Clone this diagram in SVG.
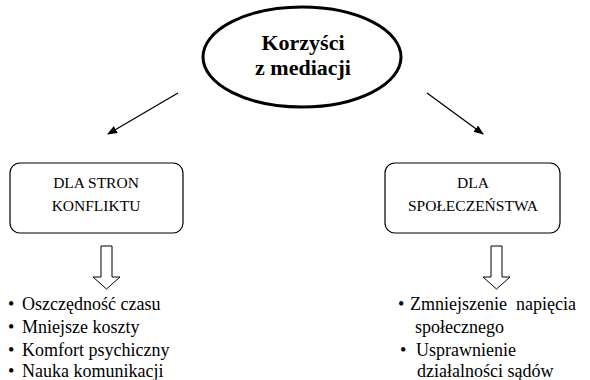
<svg xmlns="http://www.w3.org/2000/svg" width="590" height="380" viewBox="0 0 590 380">
<style>
text{font-family:"Liberation Serif","Tinos","Times New Roman","DejaVu Serif",serif;fill:#000}
.t{font-size:22px;font-weight:bold;text-anchor:middle}
.b{font-size:15.5px;text-anchor:middle}
.l{font-size:18px}
.box{fill:#fff;stroke:#000;stroke-width:1.2}
.ln{stroke:#000;stroke-width:1.3;fill:none}
.blk{fill:#fff;stroke:#000;stroke-width:1}
</style>
<defs>
<marker id="ah" markerWidth="10" markerHeight="8" refX="9" refY="4" orient="auto" markerUnits="userSpaceOnUse">
<path d="M0,0 L10,4 L0,8 Z" fill="#000"/>
</marker>
</defs>
<g id="root">
<ellipse cx="302" cy="57" rx="99" ry="50" fill="#fff" stroke="#000" stroke-width="3"/>
<text class="t" x="303" y="50">Korzyści</text>
<text class="t" x="303" y="75">z mediacji</text>
</g>
<g id="left">
<rect class="box" x="10" y="163" width="173" height="70" rx="10"/>
<text class="b" x="96" y="188">DLA STRON</text>
<text class="b" x="96" y="211">KONFLIKTU</text>
</g>
<g id="right">
<rect class="box" x="385" y="163" width="175" height="70" rx="10"/>
<text class="b" x="473" y="188">DLA</text>
<text class="b" x="473" y="211">SPOŁECZEŃSTWA</text>
</g>
<g id="connectors">
<line class="ln" x1="178" y1="93" x2="108" y2="134" marker-end="url(#ah)"/>
<line class="ln" x1="427" y1="93" x2="483" y2="134" marker-end="url(#ah)"/>
<path class="blk" d="M101,246 H112 V277 H120 L106.5,289 L93,277 H101 Z"/>
<path class="blk" d="M491,246 H502 V277 H510 L496.5,289 L483,277 H491 Z"/>
</g>
<g id="left-list">
<text class="l" y="310"><tspan x="8">•</tspan><tspan x="22">Oszczędność czasu</tspan></text>
<text class="l" y="333"><tspan x="8">•</tspan><tspan x="22">Mniejsze koszty</tspan></text>
<text class="l" y="356"><tspan x="8">•</tspan><tspan x="22">Komfort psychiczny</tspan></text>
<text class="l" y="377"><tspan x="8">•</tspan><tspan x="22">Nauka komunikacji</tspan></text>
</g>
<g id="right-list">
<text class="l" y="310"><tspan x="398">•</tspan><tspan x="410" xml:space="preserve">Zmniejszenie  napięcia</tspan></text>
<text class="l" x="415" y="333">społecznego</text>
<text class="l" y="356"><tspan x="400">•</tspan><tspan x="416">Usprawnienie</tspan></text>
<text class="l" x="417" y="377">działalności sądów</text>
</g>
</svg>
